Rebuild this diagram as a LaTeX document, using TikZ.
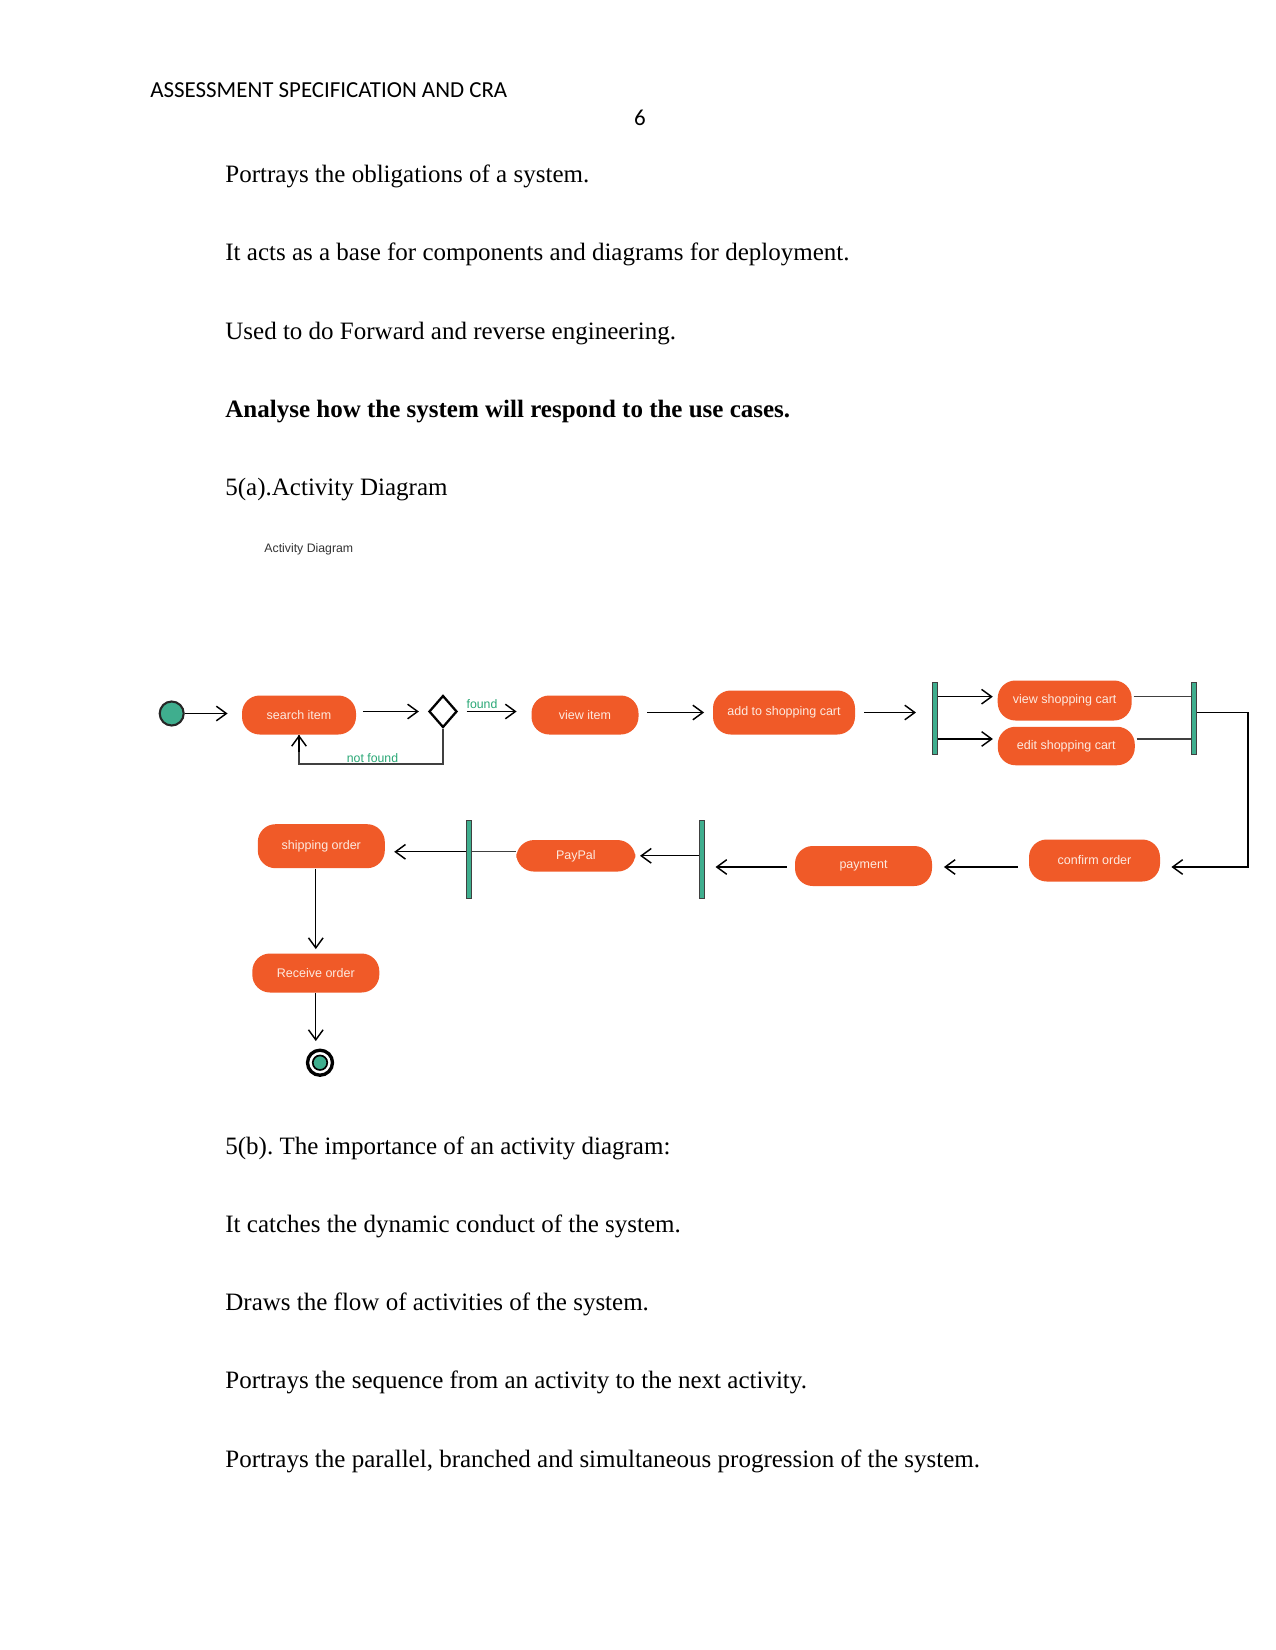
\documentclass[tikz,border=0pt]{standalone}
\usepackage{fontspec}
\setmainfont{Liberation Serif}
\newfontfamily\hdrfont{Carlito}
\newfontfamily\diafont{Liberation Sans}
\usetikzlibrary{arrows.meta,shapes.geometric,calc}
\definecolor{actorange}{HTML}{F05A28}
\definecolor{actteal}{HTML}{3FAE8E}
\definecolor{actgreen}{HTML}{2AA876}
\definecolor{acttext}{HTML}{FDEAE0}
\frenchspacing
\tikzset{
  body/.style={anchor=base west, inner sep=0pt, font=\fontsize{12}{14}\selectfont},
  actbox/.style={fill=actorange, rounded corners=8.5pt, text=acttext, inner sep=0pt,
    font=\diafont\fontsize{6}{7}\selectfont},
  barnode/.style={draw=black!75, line width=0.4pt, fill=actteal, inner sep=0pt,
    minimum width=2.5pt},
  arr/.style={draw=black, line width=0.65pt, -{Straight Barb[length=4.8pt,width=7pt,line width=0.7pt]}},
  ln/.style={draw=black!75, line width=0.65pt},
  lbl/.style={text=actgreen, inner sep=0pt, font=\diafont\fontsize{5.9}{7}\selectfont}
}
\begin{document}
\begin{tikzpicture}[x=0.48pt,y=-0.48pt]
\useasboundingbox (0,0) rectangle (1275,1650);
\fill[white] (0,0) rectangle (1275,1650);

% header
\node[anchor=base west, inner sep=0pt, font=\hdrfont\fontsize{11}{13}\selectfont] (hdr) at (150,98) {ASSESSMENT SPECIFICATION AND CRA};
\node[anchor=base, inner sep=0pt, font=\hdrfont\fontsize{11}{13}\selectfont] (pnum) at (640,126) {6};

% body text top
\node[body] (t1) at (225,183) {Portrays the obligations of a system.};
\node[body] (t2) at (225,261) {It acts as a base for components and diagrams for deployment.};
\node[body] (t3) at (225,339.5) {Used to do Forward and reverse engineering.};
\node[body, font=\fontsize{12}{14}\selectfont\bfseries] (t4) at (225,418) {Analyse how the system will respond to the use cases.};
\node[body] (t5) at (225,496) {5(a).Activity Diagram};

% diagram title
\node[anchor=west, inner sep=0pt, text=black!80, font=\diafont\fontsize{5.9}{7}\selectfont] (dtitle) at (264,549.5) {Activity Diagram};

% row 1
\node[circle, draw=black!85, line width=1pt, fill=actteal, minimum size=24*0.48pt, inner sep=0pt] (start) at (171.7,713.5) {};
\node[actbox, minimum width=114*0.48pt, minimum height=39*0.48pt] (search) at (299,715) {search item};
\node[diamond, draw=black, line width=1.1pt, fill=white, minimum width=28*0.48pt, minimum height=32*0.48pt, inner sep=0pt] (dia) at (443,711.5) {};
\node[actbox, minimum width=107*0.48pt, minimum height=39*0.48pt] (view) at (585,715) {view item};
\node[actbox, minimum width=142*0.48pt, minimum height=44*0.48pt] (add) at (784,712.5) {add to shopping cart};
\node[barnode, minimum height=72*0.48pt] (fork) at (935,718) {};
\node[actbox, minimum width=134*0.48pt, minimum height=40*0.48pt] (vcart) at (1064.7,700.5) {view shopping cart};
\node[actbox, minimum width=137*0.48pt, minimum height=38.5*0.48pt] (ecart) at (1066.3,746) {edit shopping cart};
\node[barnode, minimum height=72*0.48pt] (join) at (1194,718) {};

% row 2
\node[actbox, minimum width=131*0.48pt, minimum height=42*0.48pt] (confirm) at (1094.5,860.5) {confirm order};
\node[actbox, minimum width=137*0.48pt, minimum height=40*0.48pt] (pay) at (863.5,866) {payment};
\node[barnode, minimum height=77.6*0.48pt] (bartwo) at (702,859.5) {};
\node[actbox, minimum width=119*0.48pt, minimum height=31.5*0.48pt] (paypal) at (575.8,855.8) {PayPal};
\node[barnode, minimum height=77.6*0.48pt] (barone) at (468.7,859.5) {};
\node[actbox, minimum width=127*0.48pt, minimum height=44*0.48pt] (ship) at (321.3,846.2) {shipping order};
\node[actbox, minimum width=127*0.48pt, minimum height=39*0.48pt] (recv) at (315.8,973) {Receive order};

% final node
\node[circle, draw=black, line width=1.6pt, fill=white, minimum size=25*0.48pt, inner sep=0pt] (final) at (320,1062.7) {};
\node[circle, draw=black, line width=0.8pt, fill=actteal, minimum size=14.5*0.48pt, inner sep=0pt] (finalin) at (final.center) {};

% helper coordinates
\coordinate (nfy) at (0,764);
\coordinate (corner) at (1248,867);

% connectors row 1
\draw[arr, shorten >=14*0.48pt] (start.east) -- (start.east -| search.west);
\draw[arr, shorten <=6.5*0.48pt, shorten >=9*0.48pt] (search.east |- dia.west) -- (dia.west);
\draw[arr, shorten <=8.5*0.48pt, shorten >=14.5*0.48pt] (dia.east) -- (dia.east -| view.west);
\draw[arr, shorten <=8.5*0.48pt, shorten >=8.5*0.48pt] (view.east |- add.west) -- (add.west);
\draw[arr, shorten <=9*0.48pt, shorten >=16*0.48pt] (add.east) -- (add.east -| fork.west);
\draw[ln] (dia.south) -- (dia.south |- nfy) -| (search.south);
\draw[arr] ([yshift=-8pt]search.south) -- (search.south);
\node[lbl, anchor=south] (nflbl) at (372.5,763) {not found};
\node[lbl, anchor=south] (flbl) at (482,709.5) {found};

% fork / join
\coordinate (fa) at ($(fork.north east)!0.207!(fork.south east)$);
\coordinate (fb) at ($(fork.north east)!0.788!(fork.south east)$);
\draw[arr, shorten >=4.5*0.48pt] (fa) -- (fa -| vcart.west);
\draw[arr, shorten >=4.5*0.48pt] (fb) -- (fb -| ecart.west);
\coordinate (ja) at ($(join.north west)!0.207!(join.south west)$);
\coordinate (jb) at ($(join.north west)!0.788!(join.south west)$);
\draw[ln, shorten <=1.5*0.48pt] (ja -| vcart.east) -- (ja);
\draw[ln, shorten <=1.5*0.48pt] (jb -| ecart.east) -- (jb);
\coordinate (jc) at ($(join.north east)!0.42!(join.south east)$);
\draw[arr, shorten >=11*0.48pt] (jc) -| (corner) -- (corner -| confirm.east);

% row 2 connectors
\draw[arr, shorten <=11*0.48pt, shorten >=11.5*0.48pt] (corner -| confirm.west) -- (corner -| pay.east);
\draw[arr, shorten <=8*0.48pt, shorten >=10.5*0.48pt] (corner -| pay.west) -- (corner -| bartwo.east);
\draw[arr, shorten >=4.3*0.48pt] (bartwo.west |- paypal.east) -- (paypal.east);
\coordinate (pr) at ($(paypal.west)+(0,-4)$);
\draw[ln] (pr) -- (pr -| barone.east);
\draw[arr, shorten >=9*0.48pt] (pr -| barone.west) -- (pr -| ship.east);

% vertical connectors
\draw[arr, shorten >=4*0.48pt] (ship.south -| recv.north) -- (recv.north);
\draw[arr, shorten >=7.5*0.48pt] (recv.south) -- (recv.south |- final.north);

% body text bottom
\node[body] (b1) at (225,1154) {5(b). The importance of an activity diagram:};
\node[body] (b2) at (225,1232) {It catches the dynamic conduct of the system.};
\node[body] (b3) at (225,1310) {Draws the flow of activities of the system.};
\node[body] (b4) at (225,1388.5) {Portrays the sequence from an activity to the next activity.};
\node[body] (b5) at (225,1467) {Portrays the parallel, branched and simultaneous progression of the system.};
\end{tikzpicture}
\end{document}
